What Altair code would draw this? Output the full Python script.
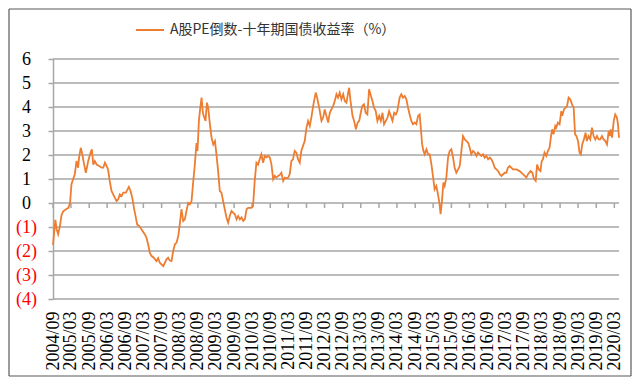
import altair as alt
import pandas as pd

series_name = "A股PE倒数-十年期国债收益率（%）"

dates = [
    "2004-09-01", "2004-09-25", "2004-10-08", "2004-10-23", "2004-11-10", "2004-11-26", "2004-12-13",
    "2005-01-10", "2005-02-03", "2005-02-20", "2005-03-06", "2005-03-23", "2005-04-09", "2005-04-26",
    "2005-05-12", "2005-05-22", "2005-06-08", "2005-06-25", "2005-07-12", "2005-07-29", "2005-08-22",
    "2005-09-15", "2005-09-28", "2005-10-12", "2005-10-28", "2005-11-15", "2005-12-11",
    "2006-01-04", "2006-01-21", "2006-02-07", "2006-02-24", "2006-03-10", "2006-03-27", "2006-04-14",
    "2006-05-01", "2006-05-17", "2006-06-03", "2006-06-20", "2006-07-07", "2006-07-24", "2006-08-10",
    "2006-09-06", "2006-09-23", "2006-10-06", "2006-10-23", "2006-11-09", "2006-11-26", "2006-12-15",
    "2006-12-29",
    "2007-01-19", "2007-02-11", "2007-03-15", "2007-04-01", "2007-04-18", "2007-05-05", "2007-05-21",
    "2007-06-14", "2007-07-11", "2007-07-28", "2007-08-14", "2007-08-31", "2007-09-17", "2007-10-04",
    "2007-10-20", "2007-11-06", "2007-11-23", "2007-12-10", "2007-12-27",
    "2008-01-13", "2008-01-30", "2008-02-16", "2008-03-02", "2008-03-19", "2008-04-06", "2008-04-22",
    "2008-05-09", "2008-05-26", "2008-06-12", "2008-06-29", "2008-07-15", "2008-08-01", "2008-08-18",
    "2008-08-28", "2008-09-11", "2008-09-25", "2008-10-08", "2008-10-21", "2008-11-04", "2008-11-17",
    "2008-12-01", "2008-12-14", "2008-12-31",
    "2009-01-17", "2009-02-03", "2009-02-20", "2009-03-07", "2009-03-24", "2009-04-10", "2009-04-27",
    "2009-05-13", "2009-05-30", "2009-06-16", "2009-07-03", "2009-07-19", "2009-08-06", "2009-08-22",
    "2009-09-09", "2009-09-26", "2009-10-12", "2009-10-29", "2009-11-15", "2009-12-02", "2009-12-18",
    "2010-01-05", "2010-01-21", "2010-02-24", "2010-03-11", "2010-03-28", "2010-04-14", "2010-05-01",
    "2010-05-17", "2010-06-03", "2010-06-20", "2010-07-07", "2010-07-24", "2010-08-10", "2010-08-27",
    "2010-09-13", "2010-09-30", "2010-10-16", "2010-11-02", "2010-11-19", "2010-12-06", "2010-12-22",
    "2011-01-09", "2011-01-26", "2011-02-12", "2011-02-28", "2011-03-16", "2011-04-02", "2011-04-18",
    "2011-05-05", "2011-05-22", "2011-06-08", "2011-06-25", "2011-07-11", "2011-07-28", "2011-08-14",
    "2011-09-01", "2011-09-17", "2011-10-04", "2011-10-20", "2011-11-07", "2011-11-23", "2011-12-03",
    "2011-12-17",
    "2012-01-07", "2012-01-30", "2012-02-16", "2012-03-03", "2012-03-20", "2012-04-06", "2012-04-23",
    "2012-05-09", "2012-05-26", "2012-06-12", "2012-06-29", "2012-07-15", "2012-08-01", "2012-08-18",
    "2012-09-05", "2012-09-21", "2012-10-08", "2012-10-25", "2012-11-04", "2012-11-18", "2012-12-08",
    "2012-12-24",
    "2013-01-11", "2013-01-28", "2013-02-14", "2013-03-01", "2013-03-17", "2013-04-03", "2013-04-20",
    "2013-05-07", "2013-05-24", "2013-06-07", "2013-06-27", "2013-07-13", "2013-07-30", "2013-08-16",
    "2013-09-03", "2013-09-19", "2013-10-06", "2013-10-22", "2013-11-09", "2013-11-26", "2013-12-12",
    "2013-12-29",
    "2014-01-15", "2014-02-01", "2014-02-18", "2014-03-05", "2014-03-28", "2014-04-14", "2014-05-01",
    "2014-05-18", "2014-06-04", "2014-06-21", "2014-07-07", "2014-07-24", "2014-08-10", "2014-08-27",
    "2014-09-13", "2014-09-30", "2014-10-16", "2014-10-26", "2014-11-10", "2014-11-23", "2014-12-06",
    "2014-12-23",
    "2015-01-09", "2015-01-26", "2015-02-12", "2015-03-01", "2015-03-16", "2015-04-02", "2015-04-19",
    "2015-05-05", "2015-05-15", "2015-05-29", "2015-06-12", "2015-06-25", "2015-07-12", "2015-07-29",
    "2015-08-15", "2015-09-01", "2015-09-18", "2015-10-04", "2015-10-21", "2015-11-08", "2015-11-24",
    "2015-12-11", "2015-12-27",
    "2016-01-14", "2016-01-31", "2016-02-17", "2016-03-03", "2016-03-20", "2016-04-06", "2016-04-23",
    "2016-05-10", "2016-05-26", "2016-06-13", "2016-06-29", "2016-07-16", "2016-08-02", "2016-08-19",
    "2016-09-05", "2016-09-22", "2016-10-08", "2016-10-25", "2016-11-11", "2016-11-28", "2016-12-15",
    "2017-01-01", "2017-01-18", "2017-02-04", "2017-02-21", "2017-03-08", "2017-03-24", "2017-04-10",
    "2017-04-27", "2017-05-14", "2017-06-17", "2017-07-20", "2017-08-23", "2017-09-26", "2017-10-13",
    "2017-11-06", "2017-11-26", "2017-12-09", "2017-12-29",
    "2018-01-12", "2018-01-29", "2018-02-15", "2018-02-28", "2018-03-12", "2018-03-28", "2018-04-15",
    "2018-05-01", "2018-05-18", "2018-06-04", "2018-06-14", "2018-06-27", "2018-07-14", "2018-07-24",
    "2018-08-10", "2018-08-27", "2018-09-13", "2018-09-23", "2018-10-10", "2018-10-27", "2018-11-10",
    "2018-11-26", "2018-12-13", "2018-12-30",
    "2019-01-16", "2019-01-30", "2019-02-12", "2019-03-01", "2019-03-16", "2019-03-30", "2019-04-12",
    "2019-04-29", "2019-05-16", "2019-05-29", "2019-06-15", "2019-07-02", "2019-07-19", "2019-08-05",
    "2019-08-22", "2019-09-08", "2019-09-25", "2019-10-11", "2019-10-28", "2019-11-14", "2019-12-01",
    "2019-12-18",
    "2020-01-04", "2020-01-14", "2020-01-24", "2020-02-07", "2020-02-24", "2020-03-10", "2020-03-27",
    "2020-04-07", "2020-04-17",
]

values = [
    -1.75, -0.70, -1.10, -1.30, -0.95, -0.50, -0.35,
    -0.26, -0.20, 0.00, 0.78, 1.00, 1.20, 1.75,
    1.47, 1.90, 2.30, 2.00, 1.60, 1.26, 1.75,
    2.10, 2.24, 1.60, 1.75, 1.60, 1.54,
    1.47, 1.47, 1.68, 1.54, 1.40, 0.92, 0.50,
    0.36, 0.22, 0.08, 0.15, 0.36, 0.29, 0.43,
    0.43, 0.57, 0.67, 0.50, 0.22, -0.20, -0.60,
    -0.90,
    -0.96, -1.10, -1.30, -1.44, -1.72, -2.07, -2.20,
    -2.28, -2.42, -2.30, -2.49, -2.56, -2.63, -2.49,
    -2.35, -2.28, -2.40, -2.42, -2.00,
    -1.72, -1.65, -1.38, -0.90, -0.26, -0.75, -0.68,
    -0.33, 0.00, -0.06, 0.08, 0.85, 1.60, 2.50,
    2.17, 3.42, 3.97, 4.39, 3.76, 3.56, 3.42,
    4.18, 3.97, 3.28,
    2.72, 2.44, 2.58, 2.03, 1.33, 0.50, 0.43,
    0.08, -0.26, -0.60, -0.82, -0.54, -0.33, -0.40,
    -0.47, -0.68, -0.54, -0.68, -0.60, -0.75, -0.68,
    -0.26, -0.20, -0.20, -0.13, 0.92, 1.68, 1.60,
    1.82, 2.03, 1.68, 1.96, 1.90, 1.96, 1.90,
    1.60, 0.99, 1.13, 1.06, 1.13, 1.17, 1.26,
    0.92, 1.06, 1.03, 1.06, 1.20, 1.75, 1.82,
    2.17, 2.10, 1.82, 1.68, 2.17, 2.38, 2.58,
    3.14, 3.42, 3.21, 3.56, 4.04, 4.39, 4.60,
    4.39,
    3.97, 3.42, 3.56, 3.90, 3.63, 3.35, 3.76,
    3.90, 4.04, 4.25, 4.53, 4.39, 4.60, 4.32,
    4.53, 4.25, 4.18, 4.60, 4.80, 4.25, 3.63,
    3.42,
    3.07, 3.35, 3.42, 3.76, 4.04, 4.11, 3.76,
    3.69, 4.74, 4.53, 4.25, 3.97, 3.83, 3.42,
    3.63, 3.42, 3.76, 3.28, 3.42, 3.56, 3.83,
    3.63,
    3.42, 3.76, 3.69, 3.83, 4.39, 4.53, 4.39,
    4.46, 4.32, 3.97, 3.69, 3.42, 3.28, 3.35,
    3.28, 3.63, 3.69, 3.21, 2.44, 2.17, 2.03,
    2.24,
    2.03, 2.03, 1.60, 1.06, 0.57, 0.71, 0.36,
    -0.06, -0.47, 0.08, 0.85, 0.71, 1.06, 1.89,
    2.17, 2.24, 1.89, 1.47, 1.26, 1.40, 1.54,
    2.17, 2.79,
    2.65, 2.58, 2.51, 2.31, 2.03, 2.17, 2.10,
    1.96, 2.10, 2.03, 1.96, 2.03, 1.89, 1.96,
    1.82, 1.89, 1.82, 1.68, 1.47, 1.40, 1.33,
    1.20, 1.13, 1.20, 1.26, 1.26, 1.47, 1.54,
    1.47, 1.40, 1.40, 1.33, 1.20, 1.06, 1.20,
    1.33, 1.26, 1.03, 0.92,
    1.60, 1.40, 1.33, 1.75, 1.82, 2.10, 1.96,
    2.17, 2.31, 2.86, 3.07, 2.86, 3.21, 3.14,
    3.35, 3.28, 3.83, 3.63, 3.90, 3.97, 4.04,
    4.39, 4.32, 4.11,
    3.97, 2.86, 2.79, 2.58, 2.10, 2.03, 2.44,
    2.65, 2.93, 2.58, 2.79, 2.65, 3.14, 2.79,
    2.65, 2.79, 2.65, 2.65, 2.79, 2.65, 2.58,
    2.44,
    3.00, 2.79, 3.07, 2.72, 3.42, 3.69, 3.56,
    3.28, 2.72,
]

tick_labels = [
    "2004/09", "2005/03", "2005/09", "2006/03", "2006/09", "2007/03", "2007/09", "2008/03",
    "2008/09", "2009/03", "2009/09", "2010/03", "2010/09", "2011/03", "2011/09", "2012/03",
    "2012/09", "2013/03", "2013/09", "2014/03", "2014/09", "2015/03", "2015/09", "2016/03",
    "2016/09", "2017/03", "2017/09", "2018/03", "2018/09", "2019/03", "2019/09", "2020/03",
]

y_ticks = [-4, -3, -2, -1, 0, 1, 2, 3, 4, 5, 6]

assert len(dates) == len(values)

df = pd.DataFrame({"date": dates, "value": values, "series": series_name})
tick_df = pd.DataFrame({"date": [t.replace("/", "-") + "-01" for t in tick_labels],
                        "value": [0] * len(tick_labels)})
grid_df = pd.DataFrame({"value": y_ticks})

W, H = 566, 240
GRID = "#A6A6A6"
FRAME = "#595959"
SERIF = "Liberation Serif"

x_scale = alt.Scale(
    type="utc",
    domain=[alt.DateTime(year=2004, month=9, date=1, utc=True),
            alt.DateTime(year=2020, month=4, date=17, utc=True)],
    nice=False,
)
y_scale = alt.Scale(domain=[-4, 6], nice=False, zero=False)

x_enc = alt.X(
    "date:T",
    scale=x_scale,
    axis=alt.Axis(
        values=[alt.DateTime(year=int(t[:4]), month=int(t[5:]), date=1, utc=True) for t in tick_labels],
        labelExpr="utcFormat(datum.value, '%Y/%m')",
        labelAngle=270,
        labelFont=SERIF,
        labelFontSize=18,
        labelColor="#000000",
        labelPadding=12,
        labelOverlap=False,
        labelFlush=False,
        domain=False,
        ticks=False,
        grid=False,
        title=None,
    ),
)

y_enc = alt.Y(
    "value:Q",
    scale=y_scale,
    axis=alt.Axis(
        values=y_ticks,
        labelExpr="datum.value < 0 ? '(' + abs(datum.value) + ')' : '' + datum.value",
        labelColor={"condition": {"test": "datum.value < 0", "value": "#FF0000"}, "value": "#000000"},
        labelFont=SERIF,
        labelFontSize=18,
        labelAlign="center",
        labelBaseline="middle",
        labelPadding=22,
        domainColor=GRID,
        domainWidth=1.5,
        tickColor=GRID,
        tickWidth=1.5,
        tickSize=5,
        grid=False,
        title=None,
    ),
)

grid = alt.Chart(grid_df).mark_rule(color=GRID, strokeWidth=1.5).encode(y=y_enc)

ticks = alt.Chart(tick_df).mark_rule(color=GRID, strokeWidth=1.5, y2Offset=5).encode(
    x=x_enc, y=y_enc, y2=alt.Y2("value:Q")
)

line = alt.Chart(df).mark_line(strokeWidth=1.8).encode(
    x=x_enc,
    y=y_enc,
    color=alt.Color(
        "series:N",
        scale=alt.Scale(range=["#ED7D31"]),
        legend=alt.Legend(
            title=None,
            orient="none",
            legendX=82,
            legendY=-44,
            direction="horizontal",
            symbolType="stroke",
            symbolStrokeWidth=2,
            symbolSize=784,
            labelFont="Noto Sans CJK SC",
            labelFontSize=14,
            labelColor="#333333",
            labelLimit=400,
            labelOffset=5,
        ),
    ),
)

# outer chart border drawn as four rules
L, R, T, B = -44, W + 12, -50, H + 77
one = alt.Data(values=[{"k": 1}])
border = [
    alt.Chart(one).mark_rule(color=FRAME, strokeWidth=1.2).encode(
        x=alt.value(L), x2=alt.value(R), y=alt.value(T), y2=alt.value(T)),
    alt.Chart(one).mark_rule(color=FRAME, strokeWidth=1.2).encode(
        x=alt.value(L), x2=alt.value(R), y=alt.value(B), y2=alt.value(B)),
    alt.Chart(one).mark_rule(color=FRAME, strokeWidth=1.2).encode(
        x=alt.value(L), x2=alt.value(L), y=alt.value(T), y2=alt.value(B)),
    alt.Chart(one).mark_rule(color=FRAME, strokeWidth=1.2).encode(
        x=alt.value(R), x2=alt.value(R), y=alt.value(T), y2=alt.value(B)),
]

chart = alt.layer(grid, ticks, line, *border).properties(
    width=W,
    height=H,
    autosize=alt.AutoSizeParams(type="none"),
    padding={"left": 45, "top": 51, "right": 13, "bottom": 78},
    background="white",
).configure_view(stroke=None)

chart.save("out.html", embed_options={"renderer": "svg", "actions": False})
